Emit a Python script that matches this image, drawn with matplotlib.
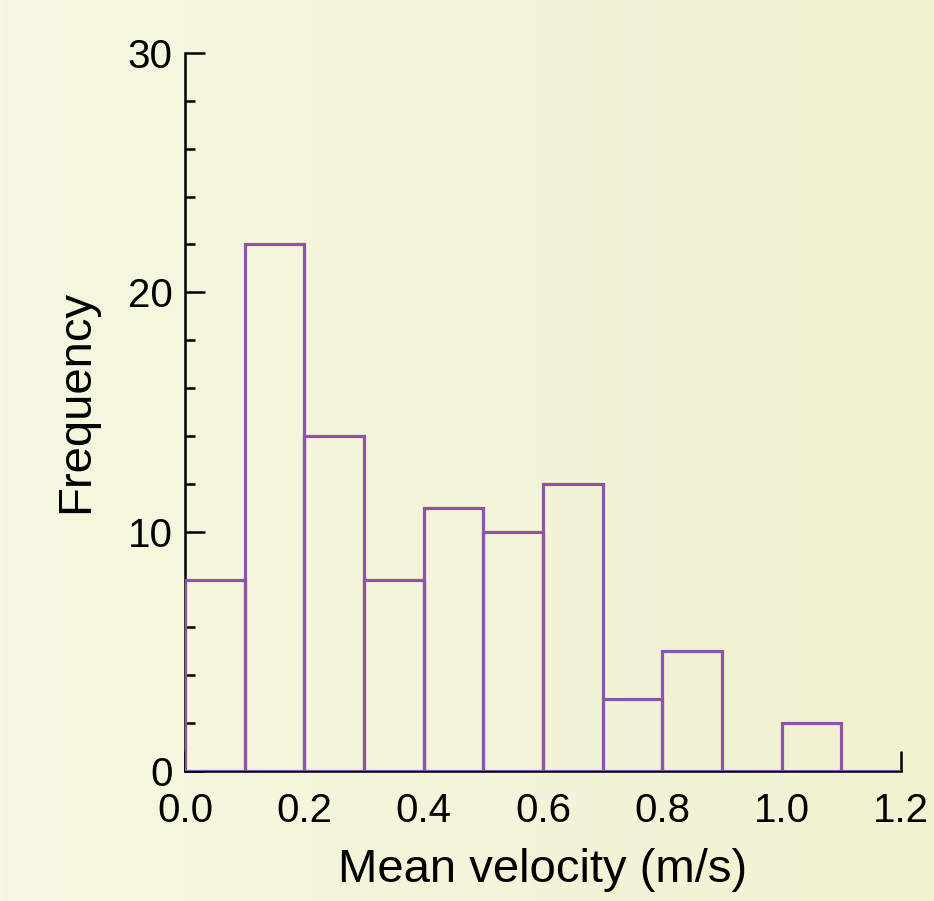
import matplotlib
matplotlib.use('Agg')
import matplotlib.pyplot as plt
import numpy as np

plt.rcParams['font.family'] = ['Liberation Sans', 'DejaVu Sans']

# histogram data
bin_edges = [0.0, 0.1, 0.2, 0.3, 0.4, 0.5, 0.6, 0.7, 0.8, 0.9, 1.0, 1.1, 1.2]
counts = [8, 22, 14, 8, 11, 10, 12, 3, 5, 0, 2, 0]
x_ticks = [0.0, 0.2, 0.4, 0.6, 0.8, 1.0, 1.2]
y_ticks = [0, 10, 20, 30]

purple = '#8c55a9'

fig = plt.figure(figsize=(9.34, 9.01), dpi=100)

# soft gradient background
bg = fig.add_axes([0, 0, 1, 1], zorder=-10)
grad = np.linspace(0, 1, 256).reshape(1, -1)
left_c = np.array([245, 247, 224]) / 255
right_c = np.array([242, 242, 210]) / 255
img = left_c[None, None, :] * (1 - grad[..., None]) + right_c[None, None, :] * grad[..., None]
bg.imshow(img, aspect='auto', extent=[0, 1, 0, 1])
bg.axis('off')

ax = fig.add_axes([185 / 934, 1 - 771 / 901, 716 / 934, 718 / 901])
ax.patch.set_alpha(0)

widths = np.diff(bin_edges)
ax.bar(bin_edges[:-1], counts, width=widths, align='edge', fill=False,
       edgecolor=purple, linewidth=2.3, zorder=3)

ax.set_xlim(0, 1.2)
ax.set_ylim(0, 30)
ax.set_xticks(x_ticks)
ax.set_xticklabels([f'{t:.1f}' for t in x_ticks])
ax.set_yticks(y_ticks)
ax.set_yticks(np.arange(0, 31, 2), minor=True)

for s in ['top', 'right']:
    ax.spines[s].set_visible(False)
ax.spines['left'].set_linewidth(1.8)
ax.spines['bottom'].set_linewidth(1.8)

ax.tick_params(axis='both', which='major', direction='in', length=14.5, width=1.8,
               labelsize=29, colors='black')
ax.tick_params(axis='y', which='minor', direction='in', length=7, width=1.8)
ax.tick_params(axis='y', which='major', pad=9)
ax.tick_params(axis='x', which='major', pad=15)

ax.set_xlabel('Mean velocity (m/s)', fontsize=34, labelpad=13)
ax.set_ylabel('Frequency', fontsize=34)
ax.yaxis.set_label_coords(-0.122, 0.515)

fig.savefig('out.png', dpi=100)
